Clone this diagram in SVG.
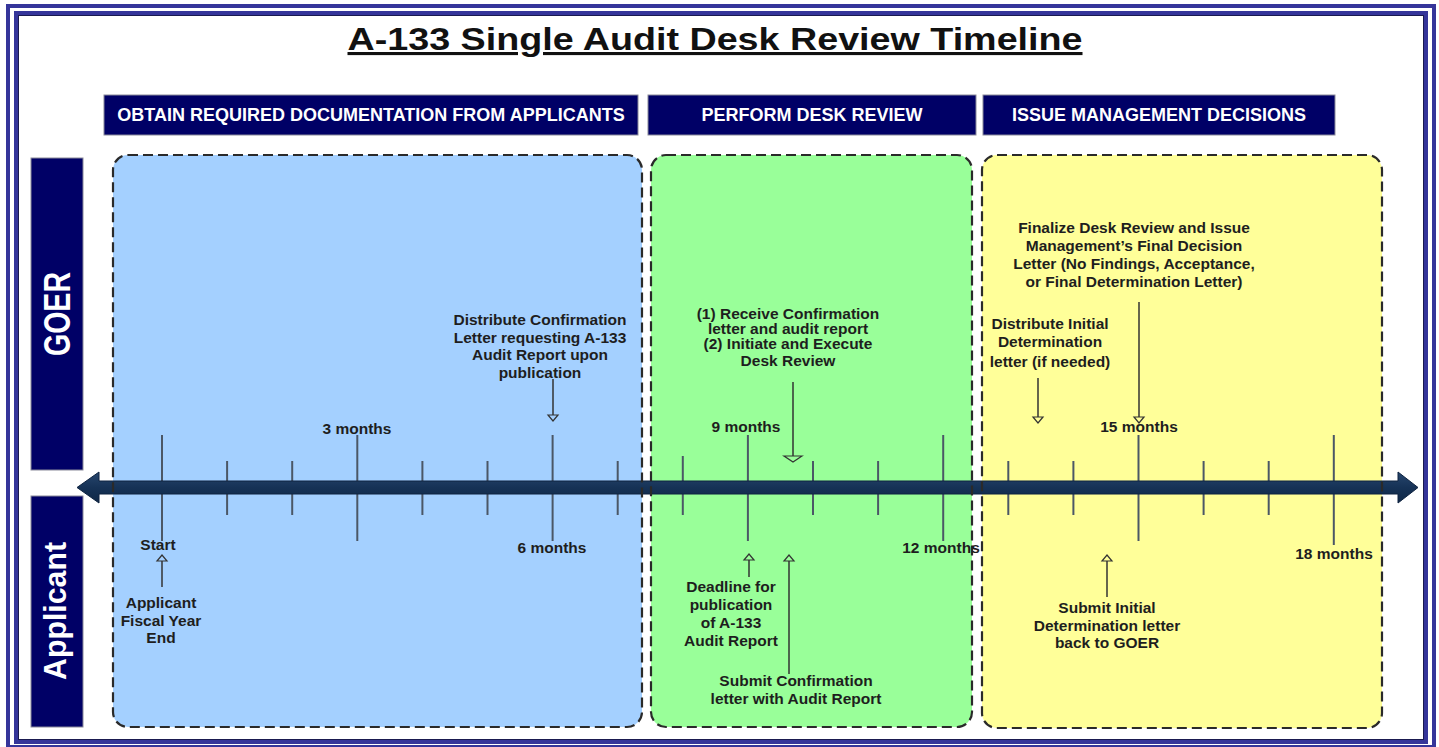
<svg xmlns="http://www.w3.org/2000/svg" width="1439" height="747" viewBox="0 0 1439 747">
<style>
.frame{fill:none;stroke:#35359a;stroke-width:4}
.hdr{fill:#000066;stroke:#8a8a9a;stroke-width:1}
.hdrt{font-family:"Liberation Sans",Arial,sans-serif;font-weight:bold;font-size:18px;fill:#fff;text-anchor:middle}
.lane{fill:#000066;stroke:#8a8a9a;stroke-width:1}
.lanet{font-family:"Liberation Sans",Arial,sans-serif;font-weight:bold;fill:#fff;text-anchor:middle}
.reg{stroke:none}
.regb{fill:none;stroke:#2a2a2a;stroke-width:2.2;stroke-dasharray:10 5}
.tick{stroke:#4b5766;stroke-width:2}
.lbl{font-family:"Liberation Sans",Arial,sans-serif;font-weight:bold;font-size:15.5px;fill:#1e1e1e;text-anchor:middle}
.con{stroke:#333;stroke-width:1.5;fill:none}
</style>
<defs>
<marker id="tri" viewBox="-1 -7 9 14" markerWidth="9" markerHeight="14" refX="0" refY="0" orient="auto" markerUnits="userSpaceOnUse" overflow="visible">
<path d="M0,-5 L6,0 L0,5 Z" fill="none" stroke="#333" stroke-width="1.2"/>
</marker>
<marker id="triw" viewBox="-1 -11 9 22" markerWidth="9" markerHeight="22" refX="0" refY="0" orient="auto" markerUnits="userSpaceOnUse" overflow="visible">
<path d="M0,-9 L6,0 L0,9 Z" fill="none" stroke="#333" stroke-width="1.2"/>
</marker>
<linearGradient id="barg" x1="0" y1="0" x2="0" y2="1">
<stop offset="0" stop-color="#27466e"/>
<stop offset="0.5" stop-color="#163256"/>
<stop offset="1" stop-color="#0f2746"/>
</linearGradient>
</defs>

<rect width="1439" height="747" fill="#fff"/>
<g id="frame">
<rect class="frame" x="8" y="6" width="1426" height="741"/>
<rect class="frame" x="16" y="13" width="1410" height="729"/>
<rect x="18.5" y="15.5" width="1405" height="724" fill="none" stroke="#1a1a50" stroke-width="1"/>
</g>

<g id="title">
<text x="715" y="50" font-family="'Liberation Sans',Arial,sans-serif" font-weight="bold" font-size="31" fill="#111" text-anchor="middle" textLength="735" lengthAdjust="spacingAndGlyphs" text-decoration="underline">A-133 Single Audit Desk Review Timeline</text>
</g>

<g id="phase-obtain-header">
<rect class="hdr" x="104" y="95" width="534" height="40"/>
<text class="hdrt" x="371" y="121">OBTAIN REQUIRED DOCUMENTATION FROM APPLICANTS</text>
</g>
<g id="phase-review-header">
<rect class="hdr" x="648" y="95" width="328" height="40"/>
<text class="hdrt" x="812" y="121">PERFORM DESK REVIEW</text>
</g>
<g id="phase-decisions-header">
<rect class="hdr" x="983" y="95" width="352" height="40"/>
<text class="hdrt" x="1159" y="121">ISSUE MANAGEMENT DECISIONS</text>
</g>

<g id="lane-goer">
<rect class="lane" x="31" y="158" width="52" height="312"/>
<text class="lanet" transform="translate(57,314) rotate(-90)" x="0" y="13" font-size="37" textLength="84" lengthAdjust="spacingAndGlyphs">GOER</text>
</g>
<g id="lane-applicant">
<rect class="lane" x="31" y="496" width="52" height="231"/>
<text class="lanet" transform="translate(57,611) rotate(-90)" x="0" y="9" font-size="32" textLength="138" lengthAdjust="spacingAndGlyphs">Applicant</text>
</g>

<g id="region-obtain">
<rect class="reg" x="113" y="155" width="529" height="572" rx="15" fill="#a4d0ff"/>
</g>
<g id="region-review">
<rect class="reg" x="651" y="155" width="321" height="572" rx="15" fill="#99ff99"/>
</g>
<g id="region-decisions">
<rect class="reg" x="982" y="155" width="400" height="573" rx="15" fill="#ffff99"/>
</g>

<g id="timeline">
<g id="ticks">
<line class="tick" x1="162" y1="435" x2="162" y2="541"/>
<line class="tick" x1="227.1" y1="461" x2="227.1" y2="515"/>
<line class="tick" x1="292.2" y1="461" x2="292.2" y2="515"/>
<line class="tick" x1="357.3" y1="435" x2="357.3" y2="541"/>
<line class="tick" x1="422.4" y1="461" x2="422.4" y2="515"/>
<line class="tick" x1="487.5" y1="461" x2="487.5" y2="515"/>
<line class="tick" x1="552.6" y1="435" x2="552.6" y2="541"/>
<line class="tick" x1="617.7" y1="461" x2="617.7" y2="515"/>
<line class="tick" x1="682.8" y1="456" x2="682.8" y2="515"/>
<line class="tick" x1="747.9" y1="435" x2="747.9" y2="541"/>
<line class="tick" x1="813" y1="461" x2="813" y2="515"/>
<line class="tick" x1="878.1" y1="461" x2="878.1" y2="515"/>
<line class="tick" x1="943.2" y1="435" x2="943.2" y2="541"/>
<line class="tick" x1="1008.3" y1="461" x2="1008.3" y2="515"/>
<line class="tick" x1="1073.4" y1="461" x2="1073.4" y2="515"/>
<line class="tick" x1="1138.5" y1="435" x2="1138.5" y2="541"/>
<line class="tick" x1="1203.6" y1="461" x2="1203.6" y2="515"/>
<line class="tick" x1="1268.7" y1="461" x2="1268.7" y2="515"/>
<line class="tick" x1="1333.8" y1="435" x2="1333.8" y2="545"/>
</g>
<path id="timeline-bar" d="M77,487.5 L99,472 L99,481 L1398,481 L1398,472 L1418,487.5 L1398,503 L1398,494 L99,494 L99,503 Z" fill="url(#barg)" stroke="#0e2340" stroke-width="1"/>
</g>

<g id="region-borders">
<rect class="regb" x="113" y="155" width="529" height="572" rx="15"/>
<rect class="regb" x="651" y="155" width="321" height="572" rx="15"/>
<rect class="regb" x="982" y="155" width="400" height="573" rx="15"/>
</g>

<g id="month-labels">
<text class="lbl" x="158" y="550">Start</text>
<text class="lbl" x="357" y="434">3 months</text>
<text class="lbl" x="552" y="553">6 months</text>
<text class="lbl" x="746" y="432">9 months</text>
<text class="lbl" x="941" y="553">12 months</text>
<text class="lbl" x="1139" y="432">15 months</text>
<text class="lbl" x="1334" y="559">18 months</text>
</g>

<g id="note-distribute-confirmation">
<text class="lbl" x="540" y="325">Distribute Confirmation</text>
<text class="lbl" x="540" y="343">Letter requesting A-133</text>
<text class="lbl" x="540" y="360">Audit Report upon</text>
<text class="lbl" x="540" y="378">publication</text>
</g>
<g id="note-receive-confirmation">
<text class="lbl" x="788" y="319">(1) Receive Confirmation</text>
<text class="lbl" x="788" y="334">letter and audit report</text>
<text class="lbl" x="788" y="349">(2) Initiate and Execute</text>
<text class="lbl" x="788" y="366">Desk Review</text>
</g>
<g id="note-finalize">
<text class="lbl" x="1134" y="233">Finalize Desk Review and Issue</text>
<text class="lbl" x="1134" y="251">Management’s Final Decision</text>
<text class="lbl" x="1134" y="269">Letter (No Findings, Acceptance,</text>
<text class="lbl" x="1134" y="287">or Final Determination Letter)</text>
</g>
<g id="note-distribute-initial">
<text class="lbl" x="1050" y="329">Distribute Initial</text>
<text class="lbl" x="1050" y="347">Determination</text>
<text class="lbl" x="1050" y="367">letter (if needed)</text>
</g>
<g id="note-fiscal-year-end">
<text class="lbl" x="161" y="608">Applicant</text>
<text class="lbl" x="161" y="626">Fiscal Year</text>
<text class="lbl" x="161" y="643">End</text>
</g>
<g id="note-deadline">
<text class="lbl" x="731" y="592">Deadline for</text>
<text class="lbl" x="731" y="610">publication</text>
<text class="lbl" x="731" y="628">of A-133</text>
<text class="lbl" x="731" y="646">Audit Report</text>
</g>
<g id="note-submit-confirmation">
<text class="lbl" x="796" y="686">Submit Confirmation</text>
<text class="lbl" x="796" y="704">letter with Audit Report</text>
</g>
<g id="note-submit-initial">
<text class="lbl" x="1107" y="613">Submit Initial</text>
<text class="lbl" x="1107" y="631">Determination letter</text>
<text class="lbl" x="1107" y="648">back to GOER</text>
</g>

<g id="connectors">
<line class="con" x1="553" y1="379" x2="553" y2="415" marker-end="url(#tri)"/>
<line class="con" x1="793" y1="382" x2="793" y2="456" marker-end="url(#triw)"/>
<line class="con" x1="1139" y1="302" x2="1139" y2="417" marker-end="url(#tri)"/>
<line class="con" x1="1038" y1="378" x2="1038" y2="417" marker-end="url(#tri)"/>
<line class="con" x1="162" y1="587" x2="162" y2="561" marker-end="url(#tri)"/>
<line class="con" x1="749" y1="577" x2="749" y2="560" marker-end="url(#tri)"/>
<line class="con" x1="789" y1="674" x2="789" y2="561" marker-end="url(#tri)"/>
<line class="con" x1="1107" y1="597" x2="1107" y2="561" marker-end="url(#tri)"/>
</g>
</svg>
